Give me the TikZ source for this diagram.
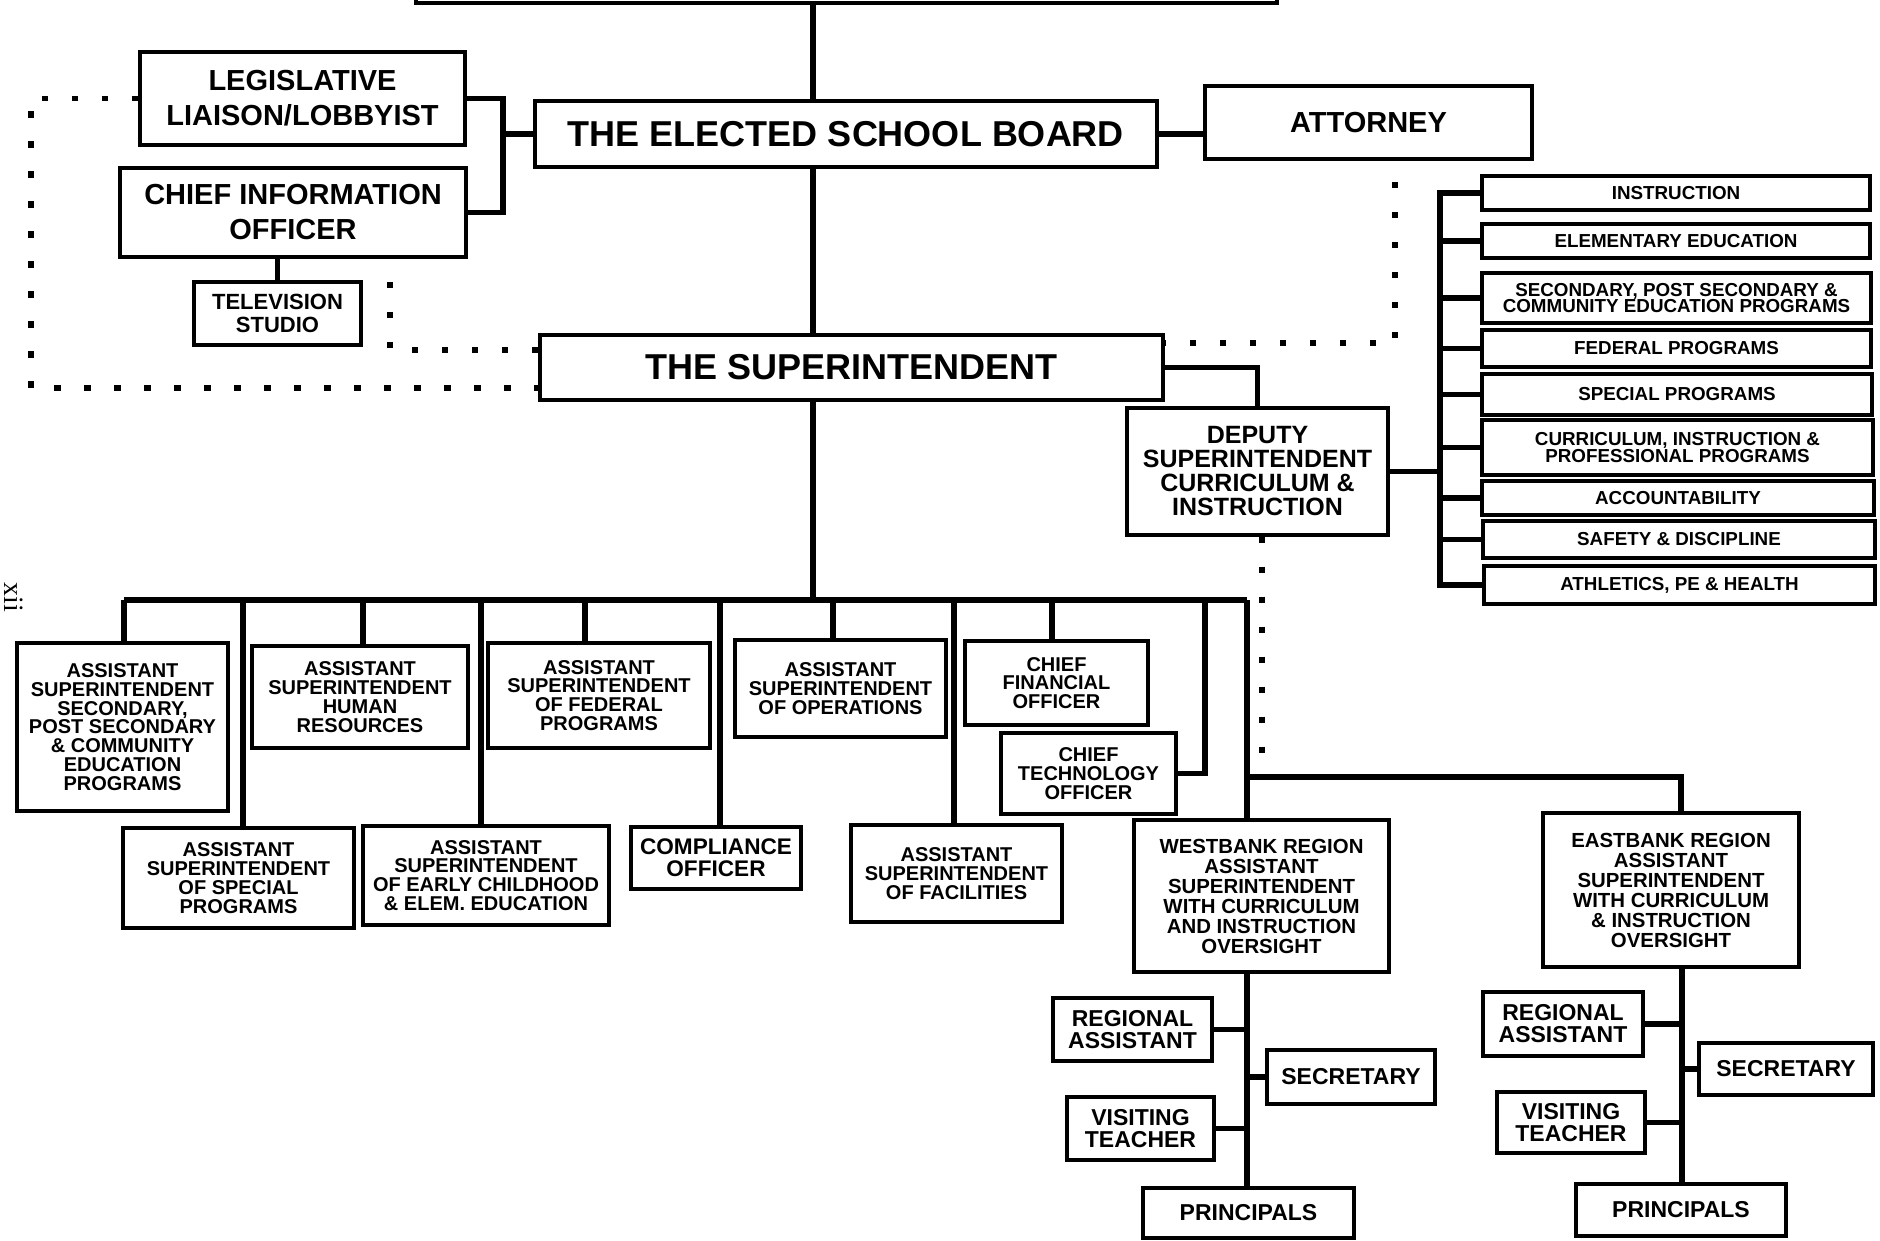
\documentclass[tikz,border=0pt]{standalone}
\usepackage{fontspec}
\setmainfont{Liberation Sans}
\newfontfamily\pagenumfont{Liberation Serif}
\usetikzlibrary{fit}
\newcommand\bx[7][]{\node[box,fit={(#3,#4)(#5,#6)}] (#2) {};
  \node[txt,#1] (#2-t) at (#2.center) {#7};}
\tikzset{
  box/.style={draw, line width=1.7pt, inner sep=0pt},
  txt/.style={align=center, inner sep=0pt,
    font=\bfseries\fontsize{10}{9.4}\selectfont},
  fbig/.style={font=\bfseries\fontsize{18}{18}\selectfont},
  flarge/.style={font=\bfseries\fontsize{14.5}{17.5}\selectfont},
  fdep/.style={font=\bfseries\fontsize{12.5}{12}\selectfont},
  ftv/.style={font=\bfseries\fontsize{11}{11.5}\selectfont},
  flist/.style={font=\bfseries\fontsize{9.4}{8.2}\selectfont},
  fmid/.style={font=\bfseries\fontsize{11.3}{11}\selectfont},
  freg/.style={font=\bfseries\fontsize{11.5}{11}\selectfont},
  fwb/.style={font=\bfseries\fontsize{10.2}{10}\selectfont},
  conn/.style={line width=2.6pt},
  dotln/.style={line width=2.6pt, dash pattern=on 3.2pt off 11.8pt},
}
\begin{document}
\begin{tikzpicture}[x=0.5pt,y=-0.5pt]
\useasboundingbox (0,0) rectangle (1880,1241);
\clip (0,0) rectangle (1880,1241);

% page number
\node[rotate=-90, inner sep=0pt, font=\pagenumfont\fontsize{14}{14}\selectfont] (pgno) at (14,597) {xii};

% top part
\bx{top}{416}{-60}{1277}{3}{}
\bx[flarge]{leg}{140}{52}{465}{145}{LEGISLATIVE\\LIAISON/LOBBYIST}
\bx[flarge]{cio}{120}{168}{466}{257}{CHIEF INFORMATION\\OFFICER}
\bx[ftv]{tv}{194}{282}{361}{345}{TELEVISION\\STUDIO}
\bx[fbig]{board}{535}{101}{1157}{167}{THE ELECTED SCHOOL BOARD}
\bx[flarge]{atty}{1205}{86}{1532}{159}{ATTORNEY}
\bx[fbig]{sup}{540}{335}{1163}{400}{THE SUPERINTENDENT}
\bx[fdep]{dep}{1127}{408}{1388}{535}{DEPUTY\\SUPERINTENDENT\\CURRICULUM \&\\INSTRUCTION}

% right list
\bx[flist]{r1}{1482}{176}{1870}{210}{INSTRUCTION}
\bx[flist]{r2}{1482}{224}{1870}{258}{ELEMENTARY EDUCATION}
\bx[flist]{r3}{1482}{273}{1871}{323}{SECONDARY, POST SECONDARY \&\\COMMUNITY EDUCATION PROGRAMS}
\bx[flist]{r4}{1482}{330}{1871}{367}{FEDERAL PROGRAMS}
\bx[flist]{r5}{1482}{374}{1872}{415}{SPECIAL PROGRAMS}
\bx[flist]{r6}{1482}{420}{1873}{475}{CURRICULUM, INSTRUCTION \&\\PROFESSIONAL PROGRAMS}
\bx[flist]{r7}{1482}{481}{1874}{515}{ACCOUNTABILITY}
\bx[flist]{r8}{1483}{521}{1875}{558}{SAFETY \& DISCIPLINE}
\bx[flist]{r9}{1484}{566}{1875}{604}{ATHLETICS, PE \& HEALTH}

% lower row
\bx{a1}{17}{643}{228}{811}{ASSISTANT\\SUPERINTENDENT\\SECONDARY,\\POST SECONDARY\\\& COMMUNITY\\EDUCATION\\PROGRAMS}
\bx{a2}{123}{828}{354}{928}{ASSISTANT\\SUPERINTENDENT\\OF SPECIAL\\PROGRAMS}
\bx{a3}{252}{646}{468}{748}{ASSISTANT\\SUPERINTENDENT\\HUMAN\\RESOURCES}
\bx{a4}{363}{826}{609}{925}{ASSISTANT\\SUPERINTENDENT\\OF EARLY CHILDHOOD\\\& ELEM. EDUCATION}
\bx{a5}{488}{643}{710}{748}{ASSISTANT\\SUPERINTENDENT\\OF FEDERAL\\PROGRAMS}
\bx[fmid]{a6}{631}{827}{801}{889}{COMPLIANCE\\OFFICER}
\bx{a7}{735}{640}{946}{737}{ASSISTANT\\SUPERINTENDENT\\OF OPERATIONS}
\bx{a8}{851}{825}{1062}{922}{ASSISTANT\\SUPERINTENDENT\\OF FACILITIES}
\bx{a9}{965}{641}{1148}{725}{CHIEF\\FINANCIAL\\OFFICER}
\bx{a10}{1001}{733}{1176}{814}{CHIEF\\TECHNOLOGY\\OFFICER}
\bx[fwb]{wb}{1134}{820}{1389}{972}{WESTBANK REGION\\ASSISTANT\\SUPERINTENDENT\\WITH CURRICULUM\\AND INSTRUCTION\\OVERSIGHT}
\bx[fwb]{eb}{1543}{813}{1799}{967}{EASTBANK REGION\\ASSISTANT\\SUPERINTENDENT\\WITH CURRICULUM\\\& INSTRUCTION\\OVERSIGHT}

% region staff
\bx[freg]{wra}{1053}{998}{1212}{1061}{REGIONAL\\ASSISTANT}
\bx[freg]{wsec}{1267}{1050}{1435}{1104}{SECRETARY}
\bx[freg]{wvt}{1067}{1097}{1214}{1160}{VISITING\\TEACHER}
\bx[freg]{wpr}{1143}{1188}{1354}{1238}{PRINCIPALS}
\bx[freg]{era}{1483}{992}{1643}{1056}{REGIONAL\\ASSISTANT}
\bx[freg]{esec}{1699}{1043}{1873}{1095}{SECRETARY}
\bx[freg]{evt}{1497}{1092}{1645}{1153}{VISITING\\TEACHER}
\bx[freg]{epr}{1576}{1184}{1786}{1236}{PRINCIPALS}

% ---- solid connectors ----
\coordinate (spine) at (813,0);
\draw[conn] (spine |- top.south) -- (spine |- board.north);
\draw[conn] (spine |- board.south) -- (spine |- sup.north);
\coordinate (busL) at (124,600);
\coordinate (busR) at (1247,600);
\draw[conn] (spine |- sup.south) -- (spine |- busL);

\coordinate (lb) at (503,137);
\draw[conn] (leg.east) -| (lb |- cio.east) -- (cio.east);
\draw[conn] (board.west) -- (board.west -| lb);
\draw[conn] (cio.south -| tv.north) -- (tv.north);
\draw[conn] (board.east) -- (board.east -| atty.west);
\draw[conn] (sup.east) -| (dep.north);

\coordinate (spR) at (1440,400);
\draw[conn] (r1.west) -- (r1.west -| spR) -- (r9.west -| spR) -- (r9.west);
\foreach \r in {r2,r3,r4,r5,r6,r7,r8}
  \draw[conn] (\r.west) -- (\r.west -| spR);
\draw[conn] (dep.east) -- (dep.east -| spR);

% bus
\draw[conn] (busL) -- (busR);
\coordinate (b1) at (124,600);
\coordinate (b2) at (243,600);
\coordinate (b3) at (363,600);
\coordinate (b4) at (481,600);
\coordinate (b5) at (585,600);
\coordinate (b6) at (720,600);
\coordinate (b7) at (833,600);
\coordinate (b8) at (954,600);
\coordinate (b9) at (1052,600);
\coordinate (bcto) at (1205,600);
\foreach \i in {1,...,9}
  \draw[conn] (b\i) -- (b\i |- a\i.north);
\draw[conn] (a10.east) -| (bcto);
\draw[conn] (busR) -- (busR |- wb.north);
\coordinate (eh) at (1247,777);
\coordinate (ebr) at (1681,777);
\draw[conn] (eh) -- (ebr) -- (ebr |- eb.north);

% region spines
\coordinate (ws) at (1247,1000);
\draw[conn] (ws |- wb.south) -- (ws |- wpr.north);
\draw[conn] (wra.east) -- (wra.east -| ws);
\draw[conn] (wsec.west) -- (wsec.west -| ws);
\draw[conn] (wvt.east) -- (wvt.east -| ws);
\coordinate (es) at (1682,1000);
\draw[conn] (es |- eb.south) -- (es |- epr.north);
\draw[conn] (era.east) -- (era.east -| es);
\draw[conn] (esec.west) -- (esec.west -| es);
\draw[conn] (evt.east) -- (evt.east -| es);

% ---- dotted connectors ----
\coordinate (dl) at (31,388);
\draw[dotln] (leg.west) -| (dl) -- (dl -| sup.west);
\coordinate (d2a) at (390,282);
\coordinate (d2) at (390,350);
\draw[dotln] (d2a) -- (d2) -- (d2 -| sup.west);
\coordinate (d3a) at (1395,182);
\coordinate (d3) at (1395,343);
\draw[dotln] (d3a) -- (d3) -- (d3 -| sup.east);
\coordinate (d4) at (1262,777);
\draw[dotln] (d4 |- dep.south) -- (d4);
\end{tikzpicture}
\end{document}
